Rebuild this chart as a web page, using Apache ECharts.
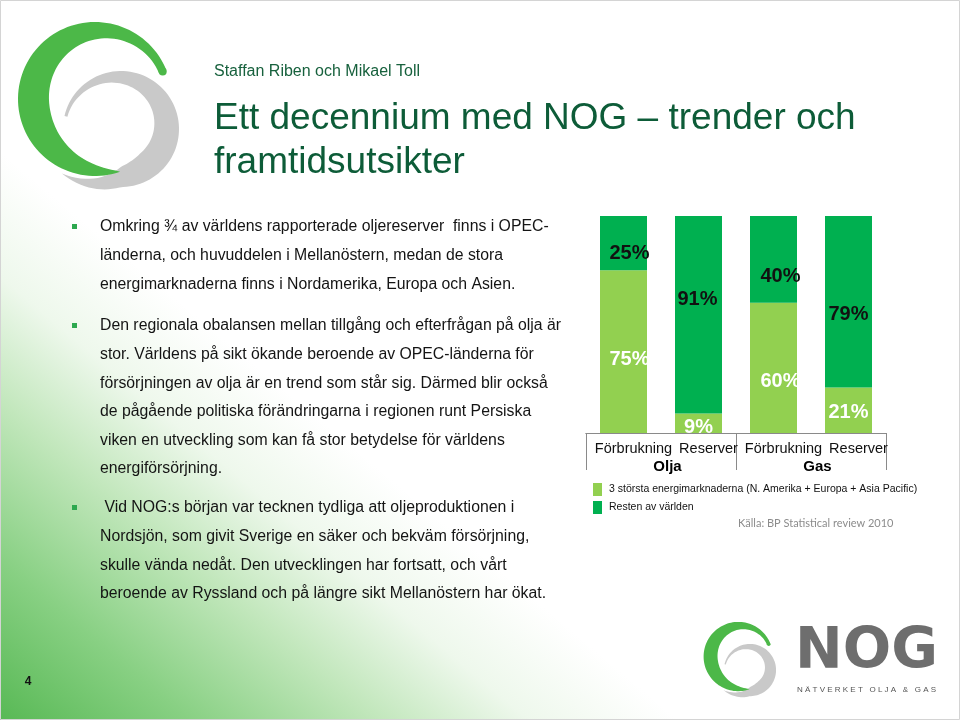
<!DOCTYPE html>
<html>
<head>
<meta charset="utf-8">
<script src="https://cdn.jsdelivr.net/npm/echarts@6/dist/echarts.min.js"></script>
<style>html,body{margin:0;padding:0;background:#fff}#c{width:960px;height:720px}</style>
</head>
<body>
<div id="c"></div>
<script>
// ---------- data ----------
const categories = ['Förbrukning', 'Reserver', 'Förbrukning', 'Reserver'];
const groups = ['Olja', 'Gas'];
const seriesNames = ['3 största energimarknaderna (N. Amerika + Europa + Asia Pacific)', 'Resten av världen'];
const top3Values = [75, 9, 60, 21];
const restValues = [25, 91, 40, 79];

const subtitle = 'Staffan Riben och Mikael Toll';
const titleLines = ['Ett decennium med NOG \u2013 trender och', 'framtidsutsikter'];
const para1 = [
  'Omkring \u00be av v\u00e4rldens rapporterade oljereserver  finns i OPEC-',
  'l\u00e4nderna, och huvuddelen i Mellan\u00f6stern, medan de stora',
  'energimarknaderna finns i Nordamerika, Europa och Asien.'
];
const para2 = [
  'Den regionala obalansen mellan tillg\u00e5ng och efterfr\u00e5gan p\u00e5 olja \u00e4r',
  'stor. V\u00e4rldens p\u00e5 sikt \u00f6kande beroende av OPEC-l\u00e4nderna f\u00f6r',
  'f\u00f6rs\u00f6rjningen av olja \u00e4r en trend som st\u00e5r sig. D\u00e4rmed blir ocks\u00e5',
  'de p\u00e5g\u00e5ende politiska f\u00f6r\u00e4ndringarna i regionen runt Persiska',
  'viken en utveckling som kan f\u00e5 stor betydelse f\u00f6r v\u00e4rldens',
  'energif\u00f6rs\u00f6rjning.'
];
const para3 = [
  ' Vid NOG:s b\u00f6rjan var tecknen tydliga att oljeproduktionen i',
  'Nordsj\u00f6n, som givit Sverige en s\u00e4ker och bekv\u00e4m f\u00f6rs\u00f6rjning,',
  'skulle v\u00e4nda ned\u00e5t. Den utvecklingen har fortsatt, och v\u00e5rt',
  'beroende av Ryssland och p\u00e5 l\u00e4ngre sikt Mellan\u00f6stern har \u00f6kat.'
];
const sourceText = 'K\u00e4lla: BP Statistical review 2010';
const logoWord = 'NOG';
const logoTag = 'N \u00c4 T V E R K E T   O L J A   &   G A S';
const pageNo = '4';

// ---------- styling (not data) ----------
const FONT = '"Liberation Sans", Arial, sans-serif';
const LIGHT = '#92D050', DARK = '#00B050';
const lightNudge = [[6, 8], [0, 4], [7, 14], [0, 2]];
const darkNudge = [[6, 10], [-1, -15], [7, 17], [0, 13]];

function crescent(cx, cy, a0, a1, ap, w0, wmax, p0, p1, rOf) {
  const N = 90, outer = [], inner = [];
  for (let i = 0; i <= N; i++) {
    const a = a0 + (a1 - a0) * i / N;
    let w;
    const f0 = (a - a0) / (ap - a0);
    if (f0 <= 1) {
      w = w0 + (wmax - w0) * Math.pow(Math.sin(f0 * Math.PI / 2), p0);
    } else {
      const f = (a - ap) / (a1 - ap);
      w = wmax * Math.pow(Math.max(0, Math.cos(f * Math.PI / 2)), p1);
    }
    const R = rOf(a), t = a * Math.PI / 180;
    outer.push([cx + R * Math.cos(t), cy + R * Math.sin(t)]);
    inner.push([cx + (R - w) * Math.cos(t), cy + (R - w) * Math.sin(t)]);
  }
  return outer.concat(inner.reverse());
}
const grayPts = crescent(121, 129, -167, 143, 45, 3, 27, 1.5, 1, a => a <= 90 ? 58 : 58 + (a - 90) / 53 * 16);
const greenPts = crescent(95, 99, -22, -289, -185, 8, 31, 1.8, 0.8, () => 77);

function logo(x, y, s) {
  return {
    type: 'group', x: x, y: y, scaleX: s, scaleY: s,
    children: [
      { type: 'polygon', shape: { points: grayPts }, style: { fill: '#c9c9c9' } },
      { type: 'polygon', shape: { points: greenPts }, style: { fill: '#4cb848' } },
      { type: 'circle', shape: { cx: 162.7, cy: 71.6, r: 4 }, style: { fill: '#4cb848' } }
    ]
  };
}

function textEl(txt, x, y, font, fill, align) {
  return { type: 'text', z: 10, style: { text: txt, x: x, y: y, font: font, fill: fill,
    textAlign: align || 'left', textVerticalAlign: 'middle' } };
}

const graphics = [];
graphics.push({
  type: 'rect', z: -10, shape: { x: 0, y: 0, width: 960, height: 720 },
  style: { fill: { type: 'linear', x: 0, y: 720, x2: 280, y2: 386, global: true,
    colorStops: [
      { offset: 0, color: '#58b955' }, { offset: 0.28, color: '#88d083' },
      { offset: 0.56, color: '#c2e7bc' }, { offset: 0.78, color: '#eef8ec' },
      { offset: 1, color: '#ffffff' }] } }
});
graphics.push({ type: 'rect', z: -9, shape: { x: 0.5, y: 0.5, width: 959, height: 719 },
  style: { fill: 'none', stroke: '#d4d4d4', lineWidth: 1 } });
graphics.push(logo(0, 0, 1));
graphics.push(logo(695.5, 612, 0.45));

graphics.push(textEl(subtitle, 214, 72, '16px ' + FONT, '#17613d'));
graphics.push(textEl(titleLines[0], 214, 119, '37px ' + FONT, '#0d5c38'));
graphics.push(textEl(titleLines[1], 214, 163, '37px ' + FONT, '#0d5c38'));

const BODY = '15.8px ' + FONT;
const LH = 28.6;
[[para1, 227], [para2, 326], [para3, 508]].forEach(function (p) {
  graphics.push({ type: 'rect', z: 10, shape: { x: 72, y: p[1] - 3, width: 5, height: 5 },
    style: { fill: '#2da84f' } });
  p[0].forEach(function (line, i) {
    graphics.push(textEl(line, 100, p[1] + i * LH, BODY, '#141414'));
  });
});

graphics.push(textEl(sourceText, 738, 523, '11px Lato, "Open Sans", sans-serif', '#8c8c8c'));
graphics.push(textEl(logoWord, 795, 653, 'bold 57px "DejaVu Sans", sans-serif', '#6e6e6e'));
graphics.push(textEl(logoTag, 797, 690, '8px ' + FONT, '#555555'));
graphics.push(textEl(pageNo, 28, 682, 'bold 12px ' + FONT, '#111111', 'center'));

function items(vals, nudge) {
  return vals.map(function (v, i) { return { value: v, label: { offset: nudge[i] } }; });
}

const chart = echarts.init(document.getElementById('c'), null, { renderer: 'canvas' });
chart.setOption({
  animation: false,
  textStyle: { fontFamily: FONT },
  graphic: graphics,
  grid: { left: 586, top: 216, width: 300, height: 217, containLabel: false },
  legend: {
    orient: 'vertical', left: 588, top: 478, itemWidth: 9, itemHeight: 13, itemGap: 5,
    icon: 'rect', selectedMode: false,
    textStyle: { fontSize: 10.5, color: '#111', fontFamily: FONT, padding: [0, 0, 0, 2] },
    data: seriesNames
  },
  xAxis: [
    { type: 'category', data: categories, position: 'bottom',
      axisLine: { show: true, lineStyle: { color: '#8a8a8a', width: 1 } },
      axisTick: { show: false },
      axisLabel: { fontSize: 14.5, color: '#111', margin: 8, padding: [0, 0, 0, 20], interval: 0 } },
    { type: 'category', data: groups, position: 'bottom',
      axisLine: { show: true, lineStyle: { color: '#8a8a8a', width: 1 } },
      axisTick: { show: true, length: 37, lineStyle: { color: '#8a8a8a', width: 1 } },
      axisLabel: { fontSize: 15, fontWeight: 'bold', color: '#000', margin: 26, padding: [0, 0, 0, 13] } }
  ],
  yAxis: { type: 'value', min: 0, max: 100, show: false },
  series: [
    { name: seriesNames[0], type: 'bar', stack: 'total', xAxisIndex: 0, barWidth: 47,
      itemStyle: { color: LIGHT },
      label: { show: true, position: 'inside', formatter: '{c}%', fontSize: 20, fontWeight: 'bold', color: '#ffffff' },
      data: items(top3Values, lightNudge) },
    { name: seriesNames[1], type: 'bar', stack: 'total', xAxisIndex: 0, barWidth: 47,
      itemStyle: { color: DARK },
      label: { show: true, position: 'inside', formatter: '{c}%', fontSize: 20, fontWeight: 'bold', color: '#111111' },
      data: items(restValues, darkNudge) }
  ]
});
</script>
</body>
</html>
